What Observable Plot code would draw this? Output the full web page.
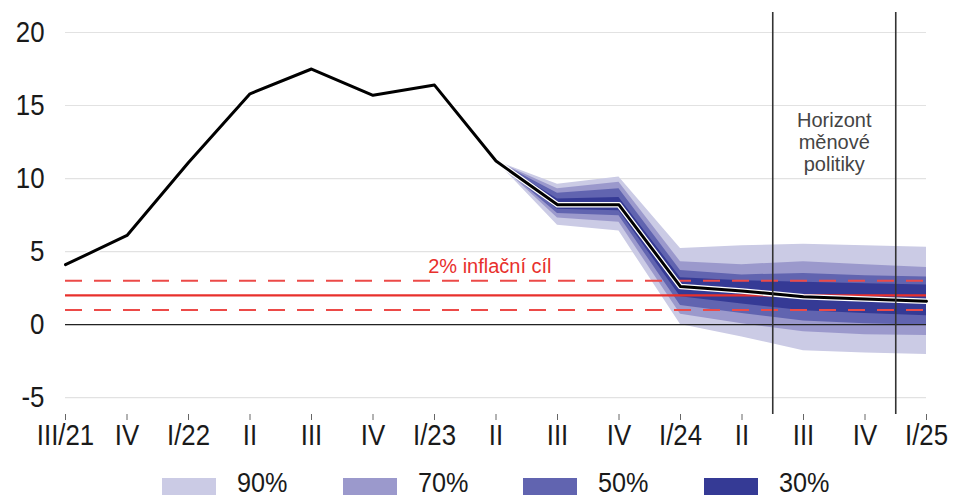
<!DOCTYPE html>
<html>
<head>
<meta charset="utf-8">
<script src="https://cdn.jsdelivr.net/npm/d3@7"></script>
<script src="https://cdn.jsdelivr.net/npm/@observablehq/plot@0.6"></script>
<style>
  html, body { margin: 0; padding: 0; background: #fff; overflow: hidden; }
  #wrap { position: relative; width: 955px; height: 499px; }
  #legend { position: absolute; left: 162px; top: 478px; display: flex; height: 17px; align-items: center;
            font-family: "Liberation Sans", Arial, sans-serif; font-size: 28px; color: #1a1a1a; }
  .item { display: flex; align-items: center; width: 180.5px; }
  .sw { width: 54px; height: 17px; margin-right: 21px; flex: none; }
  .lab { line-height: 20px; display: inline-block; position: relative; top: -4px; transform: scaleX(0.9); transform-origin: 0 50%; }
</style>
</head>
<body>
<div id="wrap">
  <div id="chart"></div>
  <div id="legend"></div>
</div>
<script>
// ---- data ----
const quarters = ["III/21","IV","I/22","II","III","IV","I/23","II","III","IV","I/24","II","III","IV","I/25"];
const inflation = [4.1, 6.1, 11.1, 15.8, 17.5, 15.7, 16.4, 11.2, 8.2, 8.2, 2.6, 2.3, 1.9, 1.75, 1.6];

// fan chart bounds, from II/23 (index 7) to I/25 (index 14)
const fanStart = 7;
const lo90 = [11.2, 6.8, 6.4, 0.0, -0.85, -1.8, -1.95, -2.05];
const hi90 = [11.2, 9.6, 10.1, 5.2, 5.4, 5.5, 5.4, 5.3];
const lo70 = [11.2, 7.3, 7.0, 0.7, 0.05, -0.5, -0.7, -0.75];
const hi70 = [11.2, 9.3, 9.75, 4.3, 4.1, 4.3, 4.1, 3.9];
const lo50 = [11.2, 7.6, 7.45, 1.3, 0.75, 0.25, 0.05, -0.05];
const hi50 = [11.2, 9.0, 9.3, 3.7, 3.4, 3.5, 3.35, 3.25];
const lo30 = [11.2, 7.9, 7.8, 1.9, 1.4, 0.95, 0.75, 0.6];
const hi30 = [11.2, 8.6, 8.7, 3.2, 3.0, 2.9, 2.8, 2.7];

const levels = ["90%", "70%", "50%", "30%"];
const levelColors = ["#cbcbe5", "#9b99cc", "#6164b0", "#353a95"];

const target = 2;
const toleranceBand = [1, 3];
const targetLabel = "2% inflační cíl";
const horizonEdges = [11.5, 13.5];   // between II/24–III/24 and IV/24–I/25
const horizonLabel = "Horizont\nměnové\npolitiky";
const yTicks = [-5, 0, 5, 10, 15, 20];

// ---- build tables ----
const lineData = inflation.map((v, i) => ({x: i, y: v}));
const bounds = [[lo90, hi90], [lo70, hi70], [lo50, hi50], [lo30, hi30]];
const fanData = levels.map((lev, k) => bounds[k][0].map((lo, j) => ({x: fanStart + j, lo, hi: bounds[k][1][j], level: lev})));

const regular = '"Liberation Sans", Arial, sans-serif';

const chart = Plot.plot({
  width: 955,
  height: 460,
  marginTop: 12,
  marginBottom: 46,
  marginLeft: 65,
  marginRight: 29,
  style: {fontFamily: regular, fontSize: "30px", color: "#1a1a1a", background: "#fff"},
  x: {domain: [0, quarters.length - 1], axis: null},
  y: {domain: [-6.16, 21.37], axis: null},
  marks: [
    Plot.gridY(yTicks, {stroke: "#e2e2e2", strokeOpacity: 1, strokeWidth: 1.2}),
    ...fanData.map((d, k) => Plot.areaY(d, {x: "x", y1: "lo", y2: "hi", fill: levelColors[k], curve: "linear"})),
    Plot.ruleY([0], {stroke: "#222", strokeWidth: 1.3}),
    Plot.ruleY(toleranceBand, {stroke: "#ec4a48", strokeWidth: 2, strokeDasharray: "17 12"}),
    Plot.ruleY([target], {stroke: "#e8302c", strokeWidth: 2.2}),
    Plot.line(lineData, {x: "x", y: "y", stroke: "#fff", strokeWidth: 5.5, strokeLinejoin: "round"}),
    Plot.line(lineData, {x: "x", y: "y", stroke: "#000", strokeWidth: 3, strokeLinejoin: "round"}),
    Plot.ruleX(horizonEdges, {stroke: "#333", strokeWidth: 1.6}),
    Plot.text([targetLabel], {x: 6.9, y: 4.0, text: d => d, fill: "#e8302c", fontSize: 20, fontFamily: regular}),
    Plot.text([horizonLabel], {x: (horizonEdges[0] + horizonEdges[1]) / 2, y: 12.5, text: d => d, fill: "#444", fontSize: 20, fontFamily: regular, lineHeight: 1.1}),
    Plot.axisY({ticks: yTicks, tickSize: 0, tickPadding: 21, fontSize: 30, tickFormat: d => String(d), label: null}),
    Plot.axisX({ticks: d3.range(quarters.length), tickFormat: i => quarters[i], tickSize: 6, tickPadding: 3, stroke: "#666", fontSize: 30, label: null})
  ]
});
document.getElementById("chart").appendChild(chart);

// condensed look of the axis labels
chart.querySelectorAll('g[aria-label="x-axis tick label"] text, g[aria-label="y-axis tick label"] text').forEach(t => {
  const len = t.getComputedTextLength();
  t.setAttribute("textLength", (len * 0.86).toFixed(1));
  t.setAttribute("lengthAdjust", "spacingAndGlyphs");
});

const legend = document.getElementById("legend");
levels.forEach((lev, k) => {
  const item = document.createElement("div");
  item.className = "item";
  const sw = document.createElement("div");
  sw.className = "sw";
  sw.style.background = levelColors[k];
  const t = document.createElement("span");
  t.className = "lab";
  t.textContent = lev;
  item.appendChild(sw);
  item.appendChild(t);
  legend.appendChild(item);
});
</script>
</body>
</html>
